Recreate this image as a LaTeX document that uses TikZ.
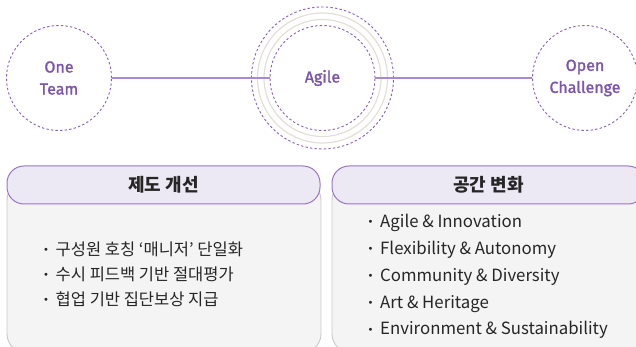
\documentclass[tikz,border=0pt]{standalone}
\usepackage{fontspec}
\setmainfont{Noto Sans CJK KR}
\newfontfamily\krfont{Noto Sans CJK KR}
\newfontfamily\circfont[FakeBold=1.6]{Fira Sans}
\newfontfamily\bulfont{DejaVu Sans}
\definecolor{purp}{HTML}{8760BD}
\definecolor{purptext}{HTML}{7B55AE}
\definecolor{purpline}{HTML}{A98ACF}
\definecolor{ringgray}{HTML}{E2DFD6}
\definecolor{headfill}{HTML}{ECE8F4}
\definecolor{headdraw}{HTML}{9A76C6}
\definecolor{bodyfill}{HTML}{F4F4F4}
\definecolor{bodydraw}{HTML}{C8C8C8}
\definecolor{txt}{HTML}{262626}
\begin{document}
\begin{tikzpicture}[x=1pt,y=-1pt,
  dashcirc/.style={circle,draw=purp,line width=0.9pt,dash pattern=on 2.4pt off 2.2pt,inner sep=0pt},
  circlabel/.style={dashcirc,minimum size=105pt,text=purptext,font=\circfont\fontsize{16}{22}\selectfont,align=center},
  ring/.style={circle,draw=ringgray,line width=1.2pt,inner sep=0pt},
  conn/.style={draw=purpline,line width=1.8pt},
  bodybox/.style={draw=bodydraw,fill=bodyfill,line width=0.9pt,rounded corners=18pt},
  headbox/.style={draw=headdraw,fill=headfill,line width=1pt,rounded corners=17pt,minimum height=38pt,text=txt,font=\krfont\bfseries\fontsize{18}{20}\selectfont},
  krlist/.style={anchor=west,align=left,text=txt,font=\krfont\fontsize{16.5}{25}\selectfont,inner sep=0pt},
  enlist/.style={anchor=west,align=left,text=txt,font=\krfont\fontsize{16.8}{26.8}\selectfont,inner sep=0pt}
]
\useasboundingbox (0,0) rectangle (636,347);
% rings around Agile
\node[dashcirc,minimum size=142pt] (agileouter) at (322.5,78) {};
\node[ring,minimum size=130pt] (ringa) at (322.5,78) {};
\node[ring,minimum size=117pt] (ringb) at (322.5,78) {};
% circles
\node[circlabel] (one) at (59,78) {One\\Team};
\node[circlabel] (agile) at (322.5,78) {Agile};
\node[circlabel] (open) at (585,78) {Open\\Challenge};
% connectors
\draw[conn] (one) -- (agile);
\draw[conn] (agile) -- (open);
% boxes
\newcommand\bul{\makebox[12.5pt][l]{\raisebox{1.8pt}{\bulfont\fontsize{10}{10}\selectfont •}}}
\coordinate (b1a) at (7,182);
\coordinate (b1b) at (321,352);
\coordinate (b2a) at (332,182);
\coordinate (b2b) at (646,352);
\path[bodybox] (b1a) rectangle (b1b);
\path[bodybox] (b2a) rectangle (b2b);
\node[headbox,minimum width=313pt] (h1) at (163.5,185) {제도 개선};
\node[headbox,minimum width=313pt] (h2) at (488.5,185) {공간 변화};
\node[krlist] (l1) at (43,274) {\bul 구성원 호칭 ‘매니저’ 단일화\\\bul 수시 피드백 기반 절대평가\\\bul 협업 기반 집단보상 지급};
\node[enlist] (l2) at (367.5,276.5) {\bul Agile \& Innovation\\\bul Flexibility \& Autonomy\\\bul Community \& Diversity\\\bul Art \& Heritage\\\bul Environment \& Sustainability};
\end{tikzpicture}
\end{document}
